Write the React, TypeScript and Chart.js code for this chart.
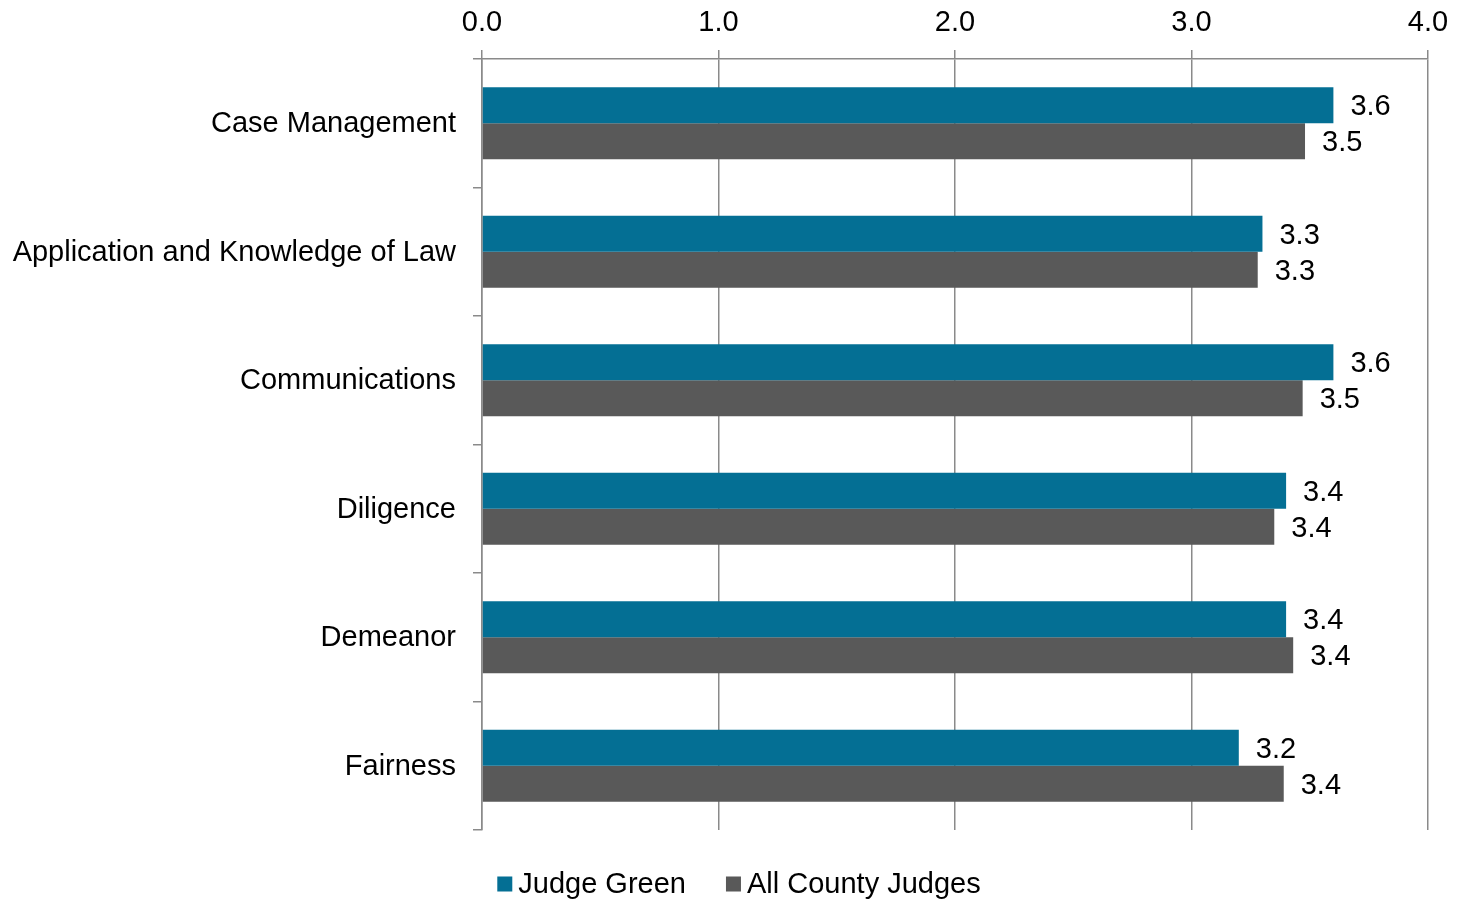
import React, { useEffect, useRef } from "react";
import { Chart, registerables } from "chart.js";

Chart.register(...registerables);

const categories = [
  "Case Management",
  "Application and Knowledge of Law",
  "Communications",
  "Diligence",
  "Demeanor",
  "Fairness",
];
const judgeGreen = [3.6, 3.3, 3.6, 3.4, 3.4, 3.2];
const allCountyJudges = [3.48, 3.28, 3.47, 3.35, 3.43, 3.39];
const seriesNames = ["Judge Green", "All County Judges"];
const xTicks = [0, 1, 2, 3, 4];

const BLUE = "#046F94";
const GRAY = "#595959";
const FONT = "'Liberation Sans', Arial, sans-serif";
const FS = 29;

const dataLabelPlugin = {
  id: "dataLabels",
  afterDatasetsDraw(chart: any) {
    const ctx = chart.ctx;
    ctx.save();
    ctx.font = `${FS}px ${FONT}`;
    ctx.fillStyle = "#000";
    ctx.textBaseline = "middle";
    ctx.textAlign = "left";
    chart.data.datasets.forEach((ds: any, di: number) => {
      const meta = chart.getDatasetMeta(di);
      meta.data.forEach((bar: any, i: number) => {
        const v = ds.data[i] as number;
        ctx.fillText(v.toFixed(1), bar.x + 17, bar.y + 2);
      });
    });
    ctx.restore();
  },
};

const customLegendPlugin = {
  id: "customLegend",
  afterDraw(chart: any) {
    const ctx = chart.ctx;
    ctx.save();
    ctx.font = `${FS}px ${FONT}`;
    ctx.textBaseline = "middle";
    ctx.textAlign = "left";
    const box = 15;
    const gapText = 6;
    const gapItem = 40;
    const items = chart.data.datasets.map((ds: any) => ({
      label: ds.label as string,
      color: ds.backgroundColor as string,
      w: ctx.measureText(ds.label).width,
    }));
    const total =
      items.reduce((s: number, it: any) => s + box + gapText + it.w, 0) +
      gapItem * (items.length - 1);
    let x = 739 - total / 2;
    const cy = chart.chartArea.bottom + 54;
    items.forEach((it: any) => {
      ctx.fillStyle = it.color;
      ctx.fillRect(x, cy - box / 2, box, box);
      x += box + gapText;
      ctx.fillStyle = "#000";
      ctx.fillText(it.label, x, cy + 1);
      x += it.w + gapItem;
    });
    ctx.restore();
  },
};

export default function App() {
  const ref = useRef<HTMLCanvasElement>(null);
  useEffect(() => {
    document.body.style.margin = "0";
    const chart = new Chart(ref.current!, {
      type: "bar",
      data: {
        labels: categories,
        datasets: [
          {
            label: seriesNames[0],
            data: judgeGreen,
            backgroundColor: BLUE,
            categoryPercentage: 0.56,
            barPercentage: 1,
          },
          {
            label: seriesNames[1],
            data: allCountyJudges,
            backgroundColor: GRAY,
            categoryPercentage: 0.56,
            barPercentage: 1,
          },
        ],
      },
      options: {
        indexAxis: "y",
        animation: false,
        responsive: false,
        maintainAspectRatio: false,
        layout: { padding: { top: 6, right: 40, left: 8, bottom: 73 } },
        scales: {
          x: {
            position: "top",
            min: 0,
            max: 4,
            afterBuildTicks: (scale: any) => {
              scale.ticks = xTicks.map((v) => ({ value: v }));
            },
            ticks: {
              callback: (v: any) => Number(v).toFixed(1),
              font: { size: FS, family: FONT },
              color: "#000",
              padding: 10,
            },
            grid: {
              color: "#8A8A8A",
              lineWidth: 1.5,
              tickLength: 9,
            },
            border: { color: "#8A8A8A", width: 1.5 },
            afterFit: (scale: any) => {
              scale.height = 53;
            },
          },
          y: {
            ticks: {
              font: { size: FS, family: FONT },
              color: "#000",
              padding: 17,
              labelOffset: 1,
            },
            grid: {
              drawOnChartArea: false,
              color: "#8A8A8A",
              lineWidth: 1.5,
              tickLength: 9,
            },
            border: { color: "#8A8A8A", width: 1.5 },
            afterFit: (scale: any) => {
              scale.width = 474;
            },
          },
        },
        plugins: {
          legend: { display: false },
          tooltip: { enabled: false },
        },
      },
      plugins: [dataLabelPlugin, customLegendPlugin],
    });
    return () => chart.destroy();
  }, []);
  return <canvas ref={ref} width={1468} height={903} style={{ display: "block" }} />;
}
